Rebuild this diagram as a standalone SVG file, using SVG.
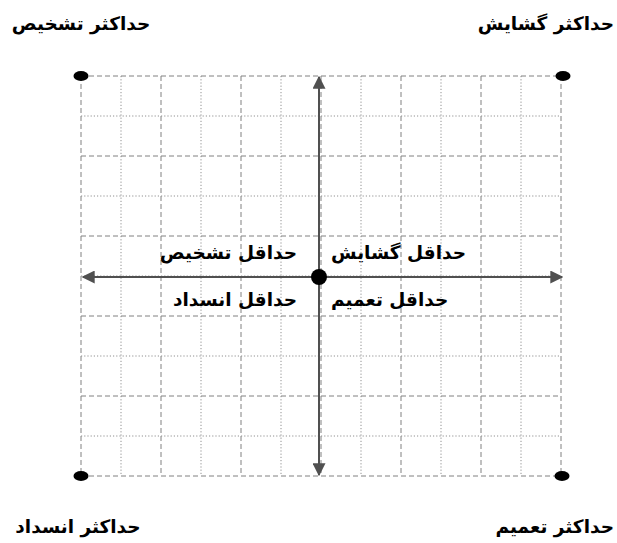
<svg xmlns="http://www.w3.org/2000/svg" width="617" height="543" viewBox="0 0 617 543">
<style>
.dash{stroke:#808080;stroke-width:1;stroke-dasharray:5 3;fill:none}
.dot{stroke:#909090;stroke-width:1;stroke-dasharray:1.2 2;fill:none}
.axis{stroke:#505050;stroke-width:2;fill:none}
.lbl{font-family:"DejaVu Sans",sans-serif;font-weight:bold;font-size:18.5px;fill:#000}
</style>
<defs>
<marker id="ah" viewBox="0 0 10 10" refX="9" refY="5" markerWidth="6.5" markerHeight="6.5" orient="auto-start-reverse" markerUnits="strokeWidth">
<path d="M0,0 L10,5 L0,10 Z" fill="#505050"/>
</marker>
</defs>
<rect width="617" height="543" fill="#fff"/>
<g id="grid">
<path class="dash" d="M81,76V476M161,76V476M241,76V476M321,76V476M401,76V476M481,76V476M561,76V476"/>
<path class="dot" d="M121,76V476M201,76V476M281,76V476M361,76V476M441,76V476M521,76V476"/>
<path class="dash" d="M81,76H561M81,156H561M81,236H561M81,316H561M81,396H561M81,476H561"/>
<path class="dot" d="M81,116H561M81,196H561M81,276H561M81,356H561M81,436H561"/>
</g>
<g id="connectors">
<line class="axis" x1="319" y1="277" x2="319" y2="77" marker-end="url(#ah)"/>
<line class="axis" x1="319" y1="277" x2="319" y2="475" marker-end="url(#ah)"/>
<line class="axis" x1="319" y1="277" x2="83" y2="277" marker-end="url(#ah)"/>
<line class="axis" x1="319" y1="277" x2="562" y2="277" marker-end="url(#ah)"/>
</g>
<g id="center"><circle cx="319" cy="277" r="8" fill="#000"/></g>
<g id="corner-tl"><ellipse cx="81" cy="76" rx="7.5" ry="5" fill="#000"/><text class="lbl" x="81" y="30" text-anchor="middle">حداکثر تشخیص</text></g>
<g id="corner-tr"><ellipse cx="563" cy="76" rx="7.5" ry="5" fill="#000"/><text class="lbl" x="614" y="30" text-anchor="end">حداکثر گشایش</text></g>
<g id="corner-bl"><ellipse cx="81" cy="476" rx="7.5" ry="5" fill="#000"/><text class="lbl" x="78" y="533" text-anchor="middle">حداکثر انسداد</text></g>
<g id="corner-br"><ellipse cx="562" cy="476" rx="7.5" ry="5" fill="#000"/><text class="lbl" x="614" y="533" text-anchor="end">حداکثر تعمیم</text></g>
<g id="min-takhsis"><text class="lbl" x="297" y="259" text-anchor="end">حداقل تشخیص</text></g>
<g id="min-goshayesh"><text class="lbl" x="331" y="259" text-anchor="start">حداقل گشایش</text></g>
<g id="min-ensedad"><text class="lbl" x="297" y="306" text-anchor="end">حداقل انسداد</text></g>
<g id="min-tamim"><text class="lbl" x="331" y="306" text-anchor="start">حداقل تعمیم</text></g>
</svg>
